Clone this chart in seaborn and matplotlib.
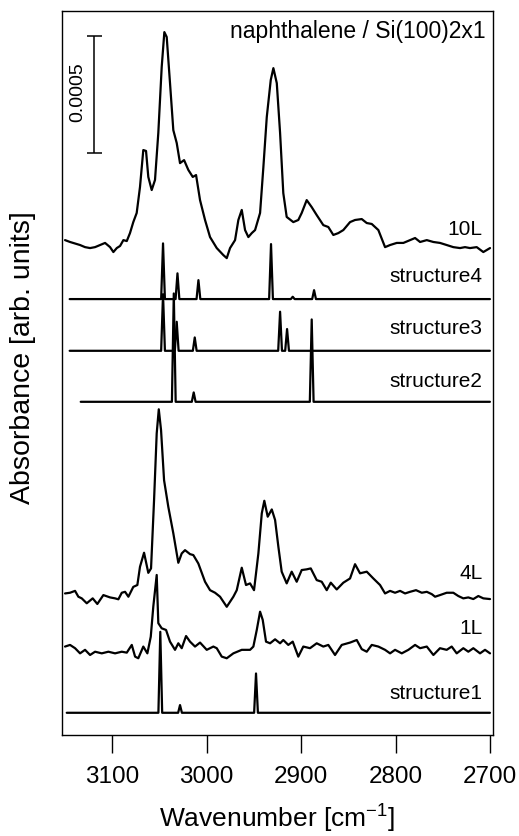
import numpy as np
import pandas as pd
import matplotlib
matplotlib.use("Agg")
import matplotlib.pyplot as plt
import seaborn as sns

wn_10L = [3150.1, 3144.8, 3134.2, 3128.9, 3123.6, 3118.3, 3113.0, 3107.7, 3102.4, 3098.9,
          3095.3, 3091.8, 3088.3, 3084.7, 3081.3, 3077.8, 3074.2, 3070.7, 3067.2, 3064.3,
          3061.9, 3058.3, 3054.8, 3051.3, 3047.7, 3044.9, 3042.4, 3038.9, 3035.4, 3031.8,
          3028.3, 3024.0, 3019.5, 3014.8, 3011.3, 3007.1, 3001.8, 2996.5, 2989.4, 2982.4,
          2978.8, 2975.3, 2970.0, 2966.5, 2962.9, 2959.4, 2955.9, 2952.3, 2948.8, 2943.5,
          2940.0, 2936.4, 2932.2, 2929.4, 2925.8, 2922.3, 2918.9, 2915.3, 2908.3, 2903.0,
          2899.4, 2894.1, 2888.8, 2883.5, 2876.5, 2871.2, 2865.9, 2860.6, 2855.3, 2848.2,
          2842.9, 2835.8, 2830.5, 2825.2, 2818.2, 2811.1, 2805.8, 2798.7, 2791.7, 2784.6,
          2779.3, 2774.0, 2766.9, 2759.9, 2752.9, 2745.8, 2738.8, 2731.7, 2726.4, 2721.1,
          2714.0, 2707.0, 2699.9]
abs_10L = [0.21, 0.13, 0.00, -0.09, -0.13, -0.09, 0.00, 0.09, -0.09, -0.30,
           -0.13, -0.04, 0.21, 0.17, 0.51, 0.98, 1.37, 2.48, 4.06, 4.02,
           2.91, 2.35, 2.78, 4.79, 7.61, 9.10, 8.89, 6.92, 4.91, 4.36,
           3.50, 3.63, 3.21, 2.91, 2.99, 1.92, 1.07, 0.34, -0.13, -0.43,
           -0.56, -0.13, 0.21, 1.07, 1.50, 0.64, 0.34, 0.51, 0.64, 1.37,
           3.33, 5.47, 7.05, 7.56, 6.92, 4.79, 2.22, 1.20, 0.98, 1.07,
           1.37, 1.92, 1.62, 1.28, 0.85, 0.77, 0.43, 0.51, 0.64, 0.98,
           1.07, 1.11, 0.94, 0.90, 0.64, -0.09, 0.00, 0.09, 0.09, 0.21,
           0.30, 0.13, 0.21, 0.13, 0.09, 0.00, -0.09, -0.13, -0.09, -0.13,
           -0.09, -0.30, -0.13]

wn_4L = [3150.1, 3144.8, 3139.5, 3136.0, 3132.4, 3127.1, 3120.8, 3115.9, 3109.5, 3102.4,
         3097.1, 3093.6, 3090.0, 3086.5, 3083.0, 3077.8, 3073.5, 3070.7, 3066.4, 3061.9,
         3059.0, 3055.8, 3053.0, 3050.8, 3048.4, 3045.2, 3040.7, 3035.4, 3030.1, 3026.5,
         3023.0, 3017.7, 3014.2, 3008.9, 3001.8, 2996.5, 2991.2, 2985.9, 2978.8, 2971.8,
         2968.2, 2962.9, 2958.4, 2954.1, 2949.9, 2945.3, 2941.7, 2939.0, 2935.4, 2931.1,
         2927.6, 2924.1, 2920.6, 2915.3, 2910.0, 2904.7, 2899.4, 2894.1, 2889.8, 2883.5,
         2878.2, 2872.9, 2868.6, 2862.3, 2855.3, 2848.2, 2842.9, 2837.6, 2830.5, 2823.5,
         2816.4, 2811.1, 2805.8, 2800.5, 2795.2, 2789.9, 2784.6, 2778.3, 2772.2, 2766.9,
         2761.6, 2758.1, 2752.9, 2745.8, 2738.8, 2733.5, 2728.2, 2722.9, 2717.6, 2712.3,
         2707.0, 2699.9]
abs_4L = [0.07, 0.10, 0.18, -0.07, -0.14, -0.35, -0.14, -0.38, 0.00, -0.10,
          -0.14, -0.18, 0.10, 0.14, -0.07, 0.35, 0.43, 1.21, 1.81, 0.95,
          1.14, 4.06, 6.91, 7.94, 7.05, 4.91, 3.77, 2.64, 1.38, 1.78,
          1.92, 1.75, 1.71, 1.35, 0.57, 0.21, 0.10, -0.07, -0.50, -0.07,
          0.21, 1.17, 0.43, 0.50, 0.21, 1.78, 3.49, 4.03, 3.35, 3.66,
          3.21, 2.06, 1.00, 0.50, 1.00, 0.57, 1.07, 1.10, 1.14, 0.64,
          0.57, 0.21, 0.53, 0.24, 0.53, 0.71, 1.32, 0.93, 1.00, 0.71,
          0.43, 0.07, 0.18, 0.10, 0.18, 0.07, 0.14, 0.21, 0.10, 0.14,
          0.04, -0.07, 0.00, 0.10, 0.10, -0.04, -0.14, -0.10, -0.17, -0.04,
          -0.14, -0.17]

wn_1L = [3150.1, 3144.8, 3139.5, 3134.2, 3128.9, 3123.6, 3118.3, 3111.2, 3104.2, 3097.1,
         3090.0, 3084.7, 3079.4, 3075.9, 3072.5, 3067.2, 3062.9, 3059.3, 3056.6, 3053.0,
         3051.3, 3047.7, 3043.1, 3038.9, 3033.6, 3030.1, 3026.5, 3021.9, 3017.7, 3012.4,
         3007.1, 3000.0, 2993.0, 2989.4, 2984.1, 2978.8, 2971.8, 2962.9, 2954.1, 2950.6,
         2947.0, 2943.5, 2940.7, 2937.2, 2932.9, 2927.6, 2922.3, 2918.9, 2913.6, 2908.9,
         2903.0, 2897.7, 2890.6, 2883.5, 2876.5, 2871.2, 2864.1, 2857.0, 2848.2, 2841.1,
         2835.8, 2830.5, 2825.2, 2818.2, 2811.1, 2805.8, 2800.5, 2793.4, 2786.4, 2779.3,
         2774.0, 2766.9, 2759.9, 2752.9, 2745.8, 2740.5, 2735.2, 2728.2, 2722.9, 2717.6,
         2710.5, 2705.2, 2699.9]
abs_1L = [0.23, 0.30, 0.16, -0.06, 0.09, -0.13, 0.01, -0.06, 0.01, -0.06,
          0.01, -0.03, 0.30, -0.20, -0.27, 0.23, -0.06, 0.65, 1.94, 3.29,
          1.23, 1.01, 0.94, 0.44, 0.09, 0.37, 0.16, 0.68, 0.44, 0.23,
          0.40, 0.09, 0.23, 0.16, -0.20, -0.27, -0.06, 0.09, 0.09, 0.23,
          0.94, 1.72, 1.37, 0.44, 0.37, 0.54, 0.37, 0.51, 0.30, 0.44,
          -0.20, 0.23, 0.16, 0.37, 0.23, 0.30, -0.13, 0.30, 0.40, 0.51,
          0.12, 0.01, 0.30, 0.23, 0.09, -0.06, 0.09, -0.06, 0.09, 0.30,
          0.16, 0.23, -0.13, 0.16, 0.09, 0.23, -0.06, 0.16, 0.01, 0.16,
          -0.06, 0.09, -0.06]

# calculated spectra: line positions [cm-1] and intensities [1e-4]
s1_pos = [3049.2, 3028.3, 2947.8]
s1_int = [3.46, 0.33, 1.68]
s2_pos = [3034.9, 3013.8, 2888.8]
s2_int = [4.63, 0.40, 3.52]
s3_pos = [3046.3, 3031.8, 3012.7, 2922.3, 2914.9]
s3_int = [2.42, 1.24, 0.57, 1.67, 0.93]
s4_pos = [3046.3, 3031.0, 3008.8, 2931.9, 2908.9, 2886.3]
s4_int = [2.38, 1.10, 0.81, 2.35, 0.10, 0.38]
s_start = {"structure1": 3148.3, "structure2": 3133.5, "structure3": 3145.2, "structure4": 3145.2}

labels = ["10L", "structure4", "structure3", "structure2", "4L", "1L", "structure1"]


def stick_line(pos, inten, start, end=2700.0, hw=2.0):
    # narrow peak for every calculated line on a flat baseline
    xs, ys = [start], [0.0]
    for p, h in sorted(zip(pos, inten), reverse=True):
        xs += [p + hw, p, p - hw]
        ys += [0.0, h, 0.0]
    xs.append(end)
    ys.append(0.0)
    return np.array(xs), np.array(ys)


traces = {
    "10L": (np.array(wn_10L), np.array(abs_10L)),
    "structure4": stick_line(s4_pos, s4_int, s_start["structure4"]),
    "structure3": stick_line(s3_pos, s3_int, s_start["structure3"]),
    "structure2": stick_line(s2_pos, s2_int, s_start["structure2"]),
    "4L": (np.array(wn_4L), np.array(abs_4L)),
    "1L": (np.array(wn_1L), np.array(abs_1L)),
    "structure1": stick_line(s1_pos, s1_int, s_start["structure1"]),
}
# vertical stacking of the traces and y of the labels
offsets = {"10L": 20.94, "structure4": 18.63, "structure3": 16.42, "structure2": 14.24,
           "4L": 5.98, "1L": 3.55, "structure1": 0.95}
label_y = {"10L": 21.6, "structure4": 19.58, "structure3": 17.38, "structure2": 15.10,
           "4L": 6.91, "1L": 4.56, "structure1": 1.78}

sns.set_theme(style="white")
plt.rcParams['font.family'] = ['Liberation Sans', 'DejaVu Sans']
plt.rcParams['text.color'] = 'black'
plt.rcParams['axes.labelcolor'] = 'black'
plt.rcParams['xtick.color'] = 'black'

fig = plt.figure(figsize=(5.19, 8.36), dpi=100)
ax = fig.add_axes([0.1195, 0.1208, 0.8305, 0.866])

rows = []
for name in labels:
    x, y = traces[name]
    rows.append(pd.DataFrame({"wn": x, "absorb": y + offsets[name], "trace": name}))
df = pd.concat(rows, ignore_index=True)

for name in labels:
    sub = df[df["trace"] == name]
    sns.lineplot(data=sub, x="wn", y="absorb", estimator=None, sort=False,
                 color="black", linewidth=1.6, ax=ax)
    ax.text(2708, label_y[name], name, ha="right", va="center", fontsize=15, color="black")

# scale bar 0.0005
bar_height = 5.0
ax.errorbar([3119], [24.87 + bar_height / 2], yerr=bar_height / 2, color="black",
            capsize=5.4, elinewidth=1.1, capthick=1.1)
ax.text(3136.3, 27.48, "0.0005", rotation=90, ha="center", va="center", fontsize=14)

ax.text(2705, 30.06, "naphthalene / Si(100)2x1", ha="right", va="center", fontsize=16.5)

ax.set_xlim(3153.3, 2696.7)
ax.set_ylim(0, 30.94)
ax.set_xticks([3100, 3000, 2900, 2800, 2700])
ax.set_yticks([])
ax.tick_params(axis="x", direction="out", length=13, width=1.0, pad=9,
               labelsize=17.5, bottom=True, color="black", labelcolor="black")
for sp in ax.spines.values():
    sp.set_color("black")
    sp.set_linewidth(1.0)
ax.set_xlabel(r"Wavenumber [cm$^{\mathregular{-1}}$]", fontsize=19, labelpad=10)
ax.set_ylabel("Absorbance [arb. units]", fontsize=20.5)
ax.yaxis.set_label_coords(-0.060, 0.521)
ax.grid(False)

fig.savefig("out.png", dpi=100)
